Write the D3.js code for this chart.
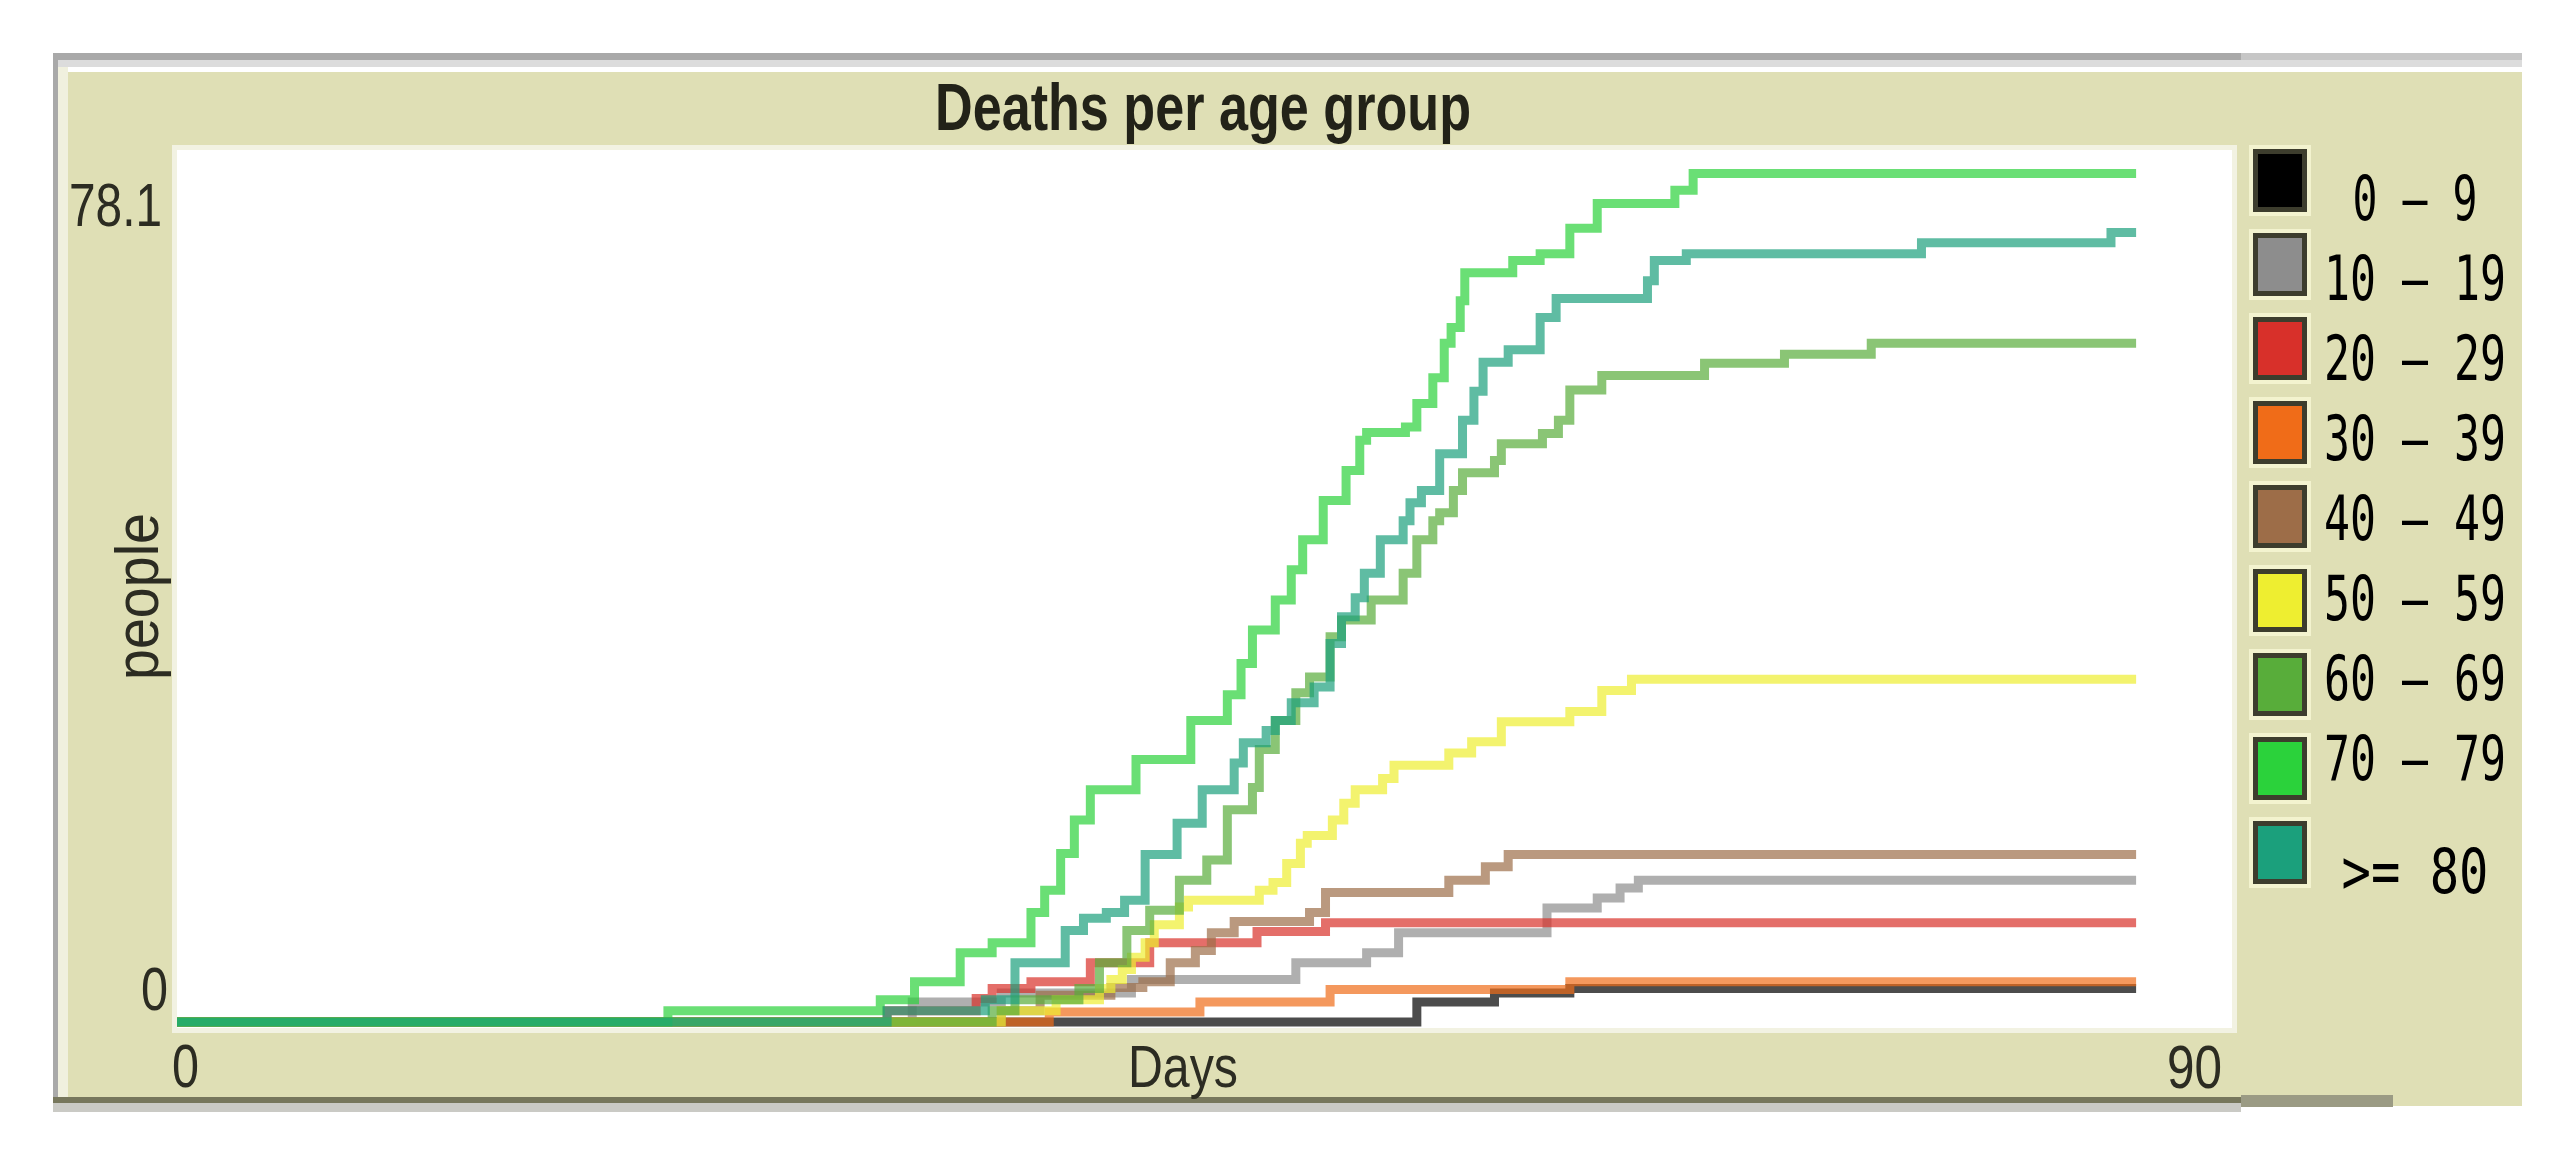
<!DOCTYPE html>
<html><head><meta charset="utf-8">
<script src="https://cdn.jsdelivr.net/npm/d3@7"></script>
<style>html,body{margin:0;padding:0;background:#fff;} svg{display:block}</style>
</head><body>
<svg id="c" width="2571" height="1160"></svg>
<script>
// ---------- data ----------
const title = "Deaths per age group";
const xLabel = "Days";
const yLabel = "people";
const xTickLabels = [0, 90];
const yTickLabels = [0, 78.1];
const groups = ["0 – 9", "10 – 19", "20 – 29", "30 – 39", "40 – 49", "50 – 59", "60 – 69", "70 – 79", ">= 80"];

// [day, cumulative deaths] – value holds from that day onward
const g0_9 = [[0,0],[54.3,1.8],[57.7,2.6],[61.0,3.0],[85.8,3.0]];
const g10_19 = [[0,0],[32.2,1.8],[36.1,2.6],[41.8,3.8],[49.0,5.3],[52.1,6.2],[53.5,8.0],[60.0,10.2],[62.2,11.1],[63.2,12.0],[64.0,12.7],[85.8,12.7]];
const g20_29 = [[0,0],[31.1,1.0],[35.0,2.1],[35.7,3.0],[37.4,3.6],[40.0,5.3],[42.6,7.1],[47.3,8.1],[50.3,8.9],[85.8,8.9]];
const g30_39 = [[0,0],[38.2,0.9],[44.8,1.8],[50.5,2.9],[61.0,3.6],[85.8,3.6]];
const g40_49 = [[0,0],[36.1,1.0],[37.8,2.4],[40.9,3.1],[42.3,3.6],[43.5,5.3],[44.6,6.4],[45.3,8.0],[46.3,9.0],[49.6,9.8],[50.3,11.6],[55.7,12.7],[57.3,13.9],[58.3,15.0],[85.8,15.0]];
const g50_59 = [[0,0],[36.1,1.0],[38.5,2.0],[40.4,3.0],[40.9,3.8],[41.4,4.7],[41.8,5.8],[42.4,7.1],[42.8,8.7],[43.9,10.3],[44.3,10.9],[47.4,11.8],[48.0,12.5],[48.6,14.2],[49.2,16.0],[49.5,16.7],[50.6,18.1],[51.1,19.6],[51.6,20.8],[52.8,21.8],[53.3,23.0],[55.7,24.1],[56.7,25.1],[58.0,26.9],[61.0,27.8],[62.4,29.7],[63.7,30.7],[85.8,30.7]];
const g60_69 = [[0,0],[35.7,1.0],[36.7,2.0],[39.5,3.0],[40.4,5.3],[41.6,8.2],[42.6,10.0],[43.9,12.7],[45.1,14.5],[46.0,19.0],[47.1,21.0],[47.4,24.4],[48.1,27.0],[49.0,29.5],[49.6,30.9],[50.5,34.5],[51.0,36.0],[52.3,37.8],[53.7,40.2],[54.3,43.2],[55.0,44.9],[55.3,45.6],[55.9,47.6],[56.3,49.2],[57.7,50.3],[58.0,51.8],[59.8,52.7],[60.5,53.9],[61.0,56.6],[62.4,57.9],[66.9,59.0],[70.4,59.8],[74.2,60.8],[85.8,60.8]];
const g70_79 = [[0,0],[21.5,1.0],[30.8,2.0],[32.3,3.6],[34.3,6.2],[35.7,7.1],[37.4,9.8],[38.0,11.8],[38.7,15.1],[39.3,18.1],[40.0,20.8],[42.0,23.5],[44.4,27.0],[46.0,29.3],[46.6,32.1],[47.1,35.1],[48.1,37.8],[48.8,40.5],[49.3,43.2],[50.2,46.7],[51.2,49.4],[51.8,52.1],[52.1,52.8],[53.8,53.3],[54.3,55.4],[55.0,57.7],[55.5,60.8],[55.8,62.2],[56.2,64.6],[56.4,67.1],[58.5,68.2],[59.7,68.8],[61.0,71.1],[62.2,73.3],[65.6,74.5],[66.4,76.0],[85.8,76.0]];
const g80plus = [[0,0],[31.1,1.0],[35.4,2.0],[36.7,5.3],[38.9,8.2],[39.7,9.3],[40.7,9.8],[41.5,10.9],[42.4,15.0],[43.8,17.8],[44.9,20.8],[46.3,23.2],[46.7,25.0],[47.7,26.1],[48.1,27.0],[48.8,28.6],[49.8,30.0],[50.5,33.9],[51.0,36.3],[51.6,38.0],[52.0,40.2],[52.7,43.2],[53.7,44.9],[54.0,46.5],[54.5,47.6],[55.3,50.9],[56.3,53.9],[56.8,56.5],[57.2,59.1],[58.3,60.2],[59.7,63.1],[60.4,64.8],[64.4,66.4],[64.7,68.2],[66.1,68.8],[76.4,69.8],[84.7,70.7],[85.8,70.7]];

const seriesList = [g0_9, g10_19, g20_29, g30_39, g40_49, g50_59, g60_69, g70_79, g80plus];
const colors = ["#000000", "#8d8d8d", "#d8302a", "#f06c18", "#9d6d48", "#eeee30", "#58ad3a", "#2bd23b", "#1ba07c"];
const legendTextWidths = [125, 182, 182, 182, 182, 182, 182, 182, 147];

// ---------- layout ----------
const svg = d3.select("#c");
const plot = {x0: 177, x1: 2232, y0: 150, y1: 1028};
const x = d3.scaleLinear().domain([xTickLabels[0], xTickLabels[1]]).range([plot.x0, plot.x1]);
const y = d3.scaleLinear().domain([yTickLabels[0], yTickLabels[1]]).range([1022, 150]);

// frame
svg.append("rect").attr("x", 53).attr("y", 53).attr("width", 2188).attr("height", 7).attr("fill", "#a9a9a9");
svg.append("rect").attr("x", 2241).attr("y", 53).attr("width", 281).attr("height", 9).attr("fill", "#c6c6c6");
svg.append("rect").attr("x", 58).attr("y", 60).attr("width", 2464).attr("height", 7).attr("fill", "#dcdcdc");
svg.append("rect").attr("x", 53).attr("y", 53).attr("width", 5).attr("height", 1050).attr("fill", "#a9a9a9");
svg.append("rect").attr("x", 58).attr("y", 67).attr("width", 10).attr("height", 1030).attr("fill", "#f0f0de");
svg.append("rect").attr("x", 68).attr("y", 72).attr("width", 2454).attr("height", 1025).attr("fill", "#dfdfb5");
svg.append("rect").attr("x", 53).attr("y", 1097).attr("width", 2188).attr("height", 6).attr("fill", "#77775c");
svg.append("rect").attr("x", 53).attr("y", 1103).attr("width", 2188).attr("height", 9).attr("fill", "#cacac5");
svg.append("rect").attr("x", 2241).attr("y", 1095).attr("width", 152).attr("height", 12).attr("fill", "#9b9b84");
svg.append("rect").attr("x", 2393).attr("y", 1095).attr("width", 129).attr("height", 11).attr("fill", "#dfdfb5");

// plot area
svg.append("rect").attr("x", plot.x0 - 5).attr("y", plot.y0 - 5)
  .attr("width", plot.x1 - plot.x0 + 10).attr("height", plot.y1 - plot.y0 + 10).attr("fill", "#f2f2e2");
svg.append("rect").attr("x", plot.x0).attr("y", plot.y0)
  .attr("width", plot.x1 - plot.x0).attr("height", plot.y1 - plot.y0).attr("fill", "#ffffff");

svg.append("clipPath").attr("id", "clip").append("rect")
  .attr("x", plot.x0).attr("y", plot.y0).attr("width", plot.x1 - plot.x0).attr("height", plot.y1 - plot.y0);

const line = d3.line().x(d => x(d[0])).y(d => y(d[1])).curve(d3.curveStepAfter);
const lines = svg.append("g").attr("clip-path", "url(#clip)");
seriesList.forEach((s, i) => {
  lines.append("path").datum(s).attr("d", line)
    .attr("fill", "none").attr("stroke", colors[i]).attr("stroke-width", 9)
    .attr("stroke-opacity", 0.7).attr("stroke-linejoin", "miter");
});

// title
const txtCol = "#2c2c22";
svg.append("text").attr("x", 935).attr("y", 130).text(title)
  .attr("font-family", "Liberation Sans, Arial, sans-serif").attr("font-weight", "bold")
  .attr("font-size", 66).attr("fill", "#222218")
  .attr("textLength", 536).attr("lengthAdjust", "spacingAndGlyphs");

// axis tick labels
const fontAx = "Liberation Sans, Arial, sans-serif";
svg.append("text").attr("x", x(xTickLabels[0]) - 5).attr("y", 1087).text(String(xTickLabels[0]))
  .attr("font-family", fontAx).attr("font-size", 62).attr("fill", txtCol)
  .attr("textLength", 27).attr("lengthAdjust", "spacingAndGlyphs");
svg.append("text").attr("x", x(xTickLabels[1]) - 65).attr("y", 1088).text(String(xTickLabels[1]))
  .attr("font-family", fontAx).attr("font-size", 62).attr("fill", txtCol)
  .attr("textLength", 55).attr("lengthAdjust", "spacingAndGlyphs");
svg.append("text").attr("x", 69).attr("y", y(yTickLabels[1]) + 76).text(String(yTickLabels[1]))
  .attr("font-family", fontAx).attr("font-size", 62).attr("fill", txtCol)
  .attr("textLength", 93).attr("lengthAdjust", "spacingAndGlyphs");
svg.append("text").attr("x", 141).attr("y", y(yTickLabels[0]) - 12).text(String(yTickLabels[0]))
  .attr("font-family", fontAx).attr("font-size", 62).attr("fill", txtCol)
  .attr("textLength", 27).attr("lengthAdjust", "spacingAndGlyphs");

// axis titles
svg.append("text").attr("x", 1128).attr("y", 1087).text(xLabel)
  .attr("font-family", fontAx).attr("font-size", 60).attr("fill", txtCol)
  .attr("textLength", 110).attr("lengthAdjust", "spacingAndGlyphs");
svg.append("text").attr("transform", "translate(158,680) rotate(-90)").text(yLabel)
  .attr("font-family", fontAx).attr("font-size", 62).attr("fill", txtCol)
  .attr("textLength", 167).attr("lengthAdjust", "spacingAndGlyphs");

// legend
const legend = svg.append("g");
groups.forEach((g, i) => {
  const top = 149 + 84 * i;
  legend.append("rect").attr("x", 2249).attr("y", top - 4).attr("width", 62).attr("height", 71)
    .attr("fill", "#f3f3cf");
  legend.append("rect").attr("x", 2255.5).attr("y", top + 2.5).attr("width", 49).attr("height", 58)
    .attr("fill", colors[i]).attr("stroke", "#3d3d2d").attr("stroke-width", 5);
  const ty = i < 8 ? 220 + 80 * i : 893;
  legend.append("text").attr("transform", `translate(2415,${ty}) scale(1,1.4)`)
    .attr("text-anchor", "middle").text(g)
    .attr("font-family", "DejaVu Sans Mono, Liberation Mono, monospace").attr("font-size", 44)
    .attr("fill", "#000")
    .attr("textLength", legendTextWidths[i]).attr("lengthAdjust", "spacingAndGlyphs");
});
</script>
</body></html>
